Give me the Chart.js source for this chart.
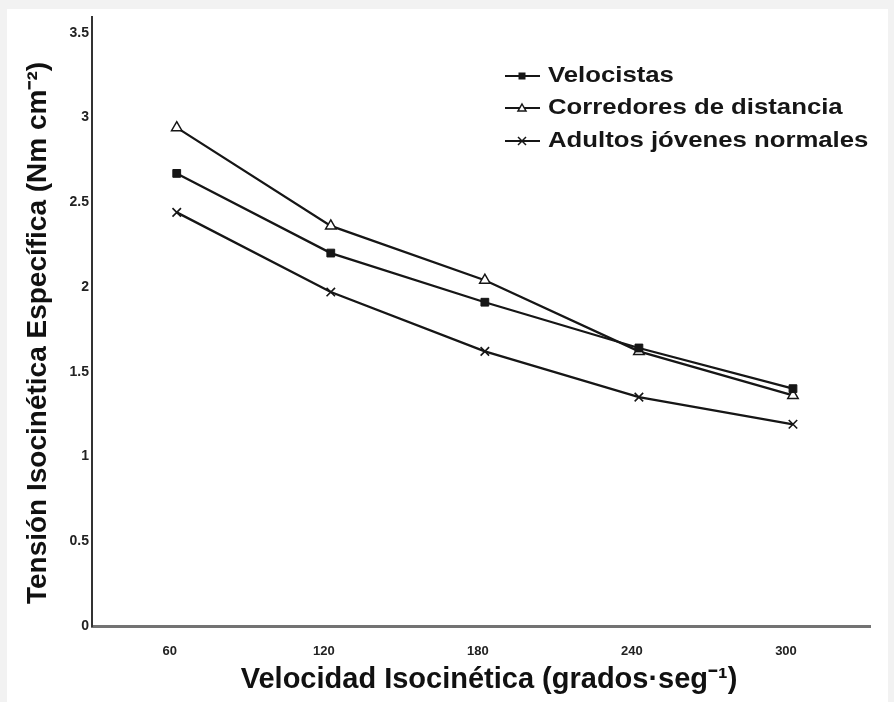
<!DOCTYPE html>
<html>
<head>
<meta charset="utf-8">
<script src="https://cdn.jsdelivr.net/npm/chart.js@4.4.1/dist/chart.umd.min.js"></script>
<style>
    html, body { margin: 0; padding: 0; background: #f2f2f2; }
    #wrap { position: absolute; left: 7px; top: 9px; width: 881px; height: 693px; background: #ffffff; }
</style>
</head>
<body>
<div id="wrap"><canvas id="tensionChart"></canvas></div>
<script>
// data
const speeds = [60, 120, 180, 240, 300];
const velocistas = [2.67, 2.20, 1.91, 1.64, 1.40];
const corredores = [2.94, 2.36, 2.04, 1.62, 1.36];
const adultos = [2.44, 1.97, 1.62, 1.35, 1.19];
const seriesNames = ["Velocistas", "Corredores de distancia", "Adultos jóvenes normales"];
const yTicks = [0, 0.5, 1, 1.5, 2, 2.5, 3, 3.5];

const FONT = "'Liberation Sans', Arial, sans-serif";
const INK = "#161616";

function points(values) {
    return speeds.map((s, i) => ({ x: s, y: values[i] }));
}

// legend drawn by hand: line sample with marker in the middle, then text
const sideLegend = {
    id: "sideLegend",
    afterDraw(chart) {
        const ctx = chart.ctx;
        const rows = [67, 99, 132];
        ctx.save();
        chart.data.datasets.forEach((ds, i) => {
            const y = rows[i];
            ctx.strokeStyle = INK;
            ctx.lineWidth = 2;
            ctx.beginPath();
            ctx.moveTo(498, y);
            ctx.lineTo(533, y);
            ctx.stroke();
            const cx = 515;
            ctx.lineWidth = 1.5;
            if (ds.pointStyle === "rect") {
                ctx.fillStyle = INK;
                ctx.fillRect(cx - 3.5, y - 3.5, 7, 7);
            } else if (ds.pointStyle === "triangle") {
                ctx.fillStyle = "#fff";
                ctx.beginPath();
                ctx.moveTo(cx, y - 4);
                ctx.lineTo(cx + 4, y + 3);
                ctx.lineTo(cx - 4, y + 3);
                ctx.closePath();
                ctx.fill();
                ctx.stroke();
            } else {
                ctx.beginPath();
                ctx.moveTo(cx - 4, y - 4);
                ctx.lineTo(cx + 4, y + 4);
                ctx.moveTo(cx + 4, y - 4);
                ctx.lineTo(cx - 4, y + 4);
                ctx.stroke();
            }
            // the original lettering is a little wider than Arial
            ctx.save();
            ctx.translate(541, y);
            ctx.scale(1.17, 1);
            ctx.fillStyle = INK;
            ctx.font = "bold 22px " + FONT;
            ctx.textBaseline = "middle";
            ctx.textAlign = "left";
            ctx.fillText(ds.label, 0, 0);
            ctx.restore();
        });
        ctx.restore();
    }
};

let tensionCtx = document.getElementById("tensionChart").getContext("2d");
let tensionChart = new Chart(tensionCtx, {
    type: "line",
    data: {
        datasets: [
            {
                label: seriesNames[0],
                data: points(velocistas),
                borderColor: INK,
                borderWidth: 2.3,
                pointStyle: "rect",
                pointRadius: 5.5,
                pointBackgroundColor: INK,
                pointBorderColor: INK,
                pointBorderWidth: 1
            },
            {
                label: seriesNames[1],
                data: points(corredores),
                borderColor: INK,
                borderWidth: 2.3,
                pointStyle: "triangle",
                pointRadius: 6,
                pointBackgroundColor: "#ffffff",
                pointBorderColor: INK,
                pointBorderWidth: 1.5
            },
            {
                label: seriesNames[2],
                data: points(adultos),
                borderColor: INK,
                borderWidth: 2.3,
                pointStyle: "crossRot",
                pointRadius: 6,
                pointBorderColor: INK,
                pointBorderWidth: 1.6
            }
        ]
    },
    options: {
        responsive: true,
        maintainAspectRatio: false,
        animation: false,
        layout: {
            padding: { left: 0, right: 18, top: 2, bottom: 0 }
        },
        plugins: {
            legend: { display: false },
            tooltip: { enabled: false }
        },
        scales: {
            x: {
                type: "linear",
                min: 27,
                max: 330,
                afterBuildTicks: (scale) => {
                    scale.ticks = speeds.map(v => ({ value: v }));
                },
                afterFit: (scale) => {
                    scale.height = 76;
                    scale.paddingLeft = 0;
                    scale.paddingRight = 0;
                },
                grid: { display: false, drawTicks: false },
                border: { display: true, color: "#737373", width: 3 },
                ticks: {
                    padding: 18,
                    labelOffset: -7,
                    color: "#222",
                    font: { family: FONT, size: 13, weight: "bold" }
                },
                title: {
                    display: true,
                    text: "  Velocidad Isocinética (grados·seg⁻¹)",
                    color: "#111",
                    font: { family: FONT, size: 29, weight: "bold", lineHeight: 1 },
                    padding: { top: 0, bottom: 8 }
                }
            },
            y: {
                min: 0,
                max: 3.595,
                afterBuildTicks: (scale) => {
                    scale.ticks = yTicks.map(v => ({ value: v }));
                },
                afterFit: (scale) => {
                    scale.width = 85;
                    scale.paddingTop = 0;
                    scale.paddingBottom = 0;
                },
                grid: { display: false, drawTicks: false },
                border: { display: true, color: "#333", width: 2 },
                ticks: {
                    padding: 3,
                    color: "#222",
                    font: { family: FONT, size: 14, weight: "bold" },
                    callback: (v) => String(v)
                },
                title: {
                    display: true,
                    text: "Tensión Isocinética Específica (Nm cm⁻²)   ",
                    color: "#111",
                    font: { family: FONT, size: 28, weight: "bold", lineHeight: 1 },
                    padding: { top: 17, bottom: 0 }
                }
            }
        }
    },
    plugins: [sideLegend]
});
</script>
</body>
</html>
